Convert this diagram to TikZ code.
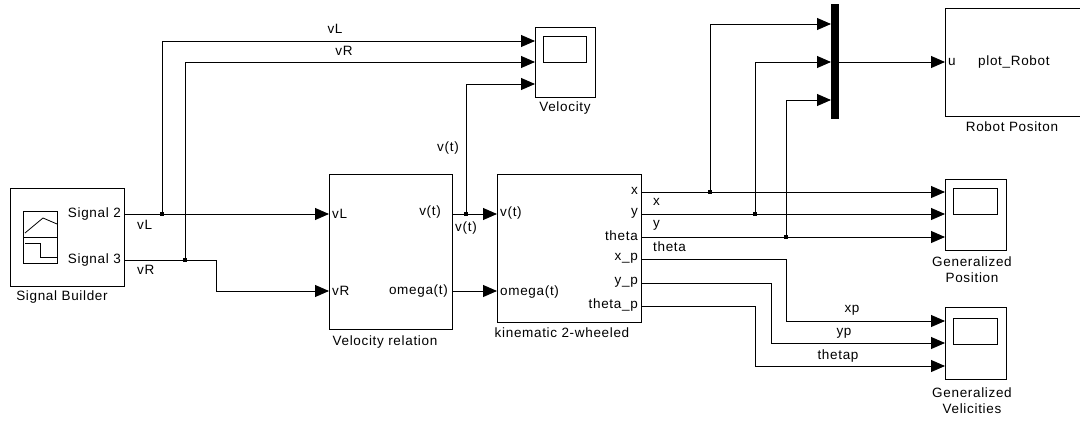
\documentclass[tikz,border=0pt]{standalone}
\usepackage{fontspec}
\setmainfont{Liberation Sans}[LetterSpace=5]
\usetikzlibrary{arrows.meta}
\begin{document}
\begin{tikzpicture}[x=1pt,y=-1pt,
  every node/.style={font=\fontsize{13.5}{16}\selectfont},
  block/.style={draw, line width=0.9pt, inner sep=0pt, anchor=north west},
  wire/.style={line width=0.9pt},
  sig/.style={wire, -{Triangle[length=14pt,width=12pt]}},
  dot/.style={fill, rectangle, inner sep=0pt, minimum size=4.5pt},
  port/.style={inner sep=0pt},
  lbl/.style={inner sep=0pt}]
\useasboundingbox (0,0) rectangle (1080,421);

% ---------- Signal Builder ----------
\node[block, minimum width=114pt, minimum height=98pt] (sb) at (10,188) {};
\draw[line width=0.8pt] (23,211) rectangle (57,263);
\draw[line width=0.8pt] (23,237) -- (57,237);
\draw[line width=0.8pt] (25,233) -- (43,218) -- (57,224);
\draw[line width=0.8pt] (25,243) -- (40,243) -- (40,257) -- (57,257);
\node[port, anchor=east] at (121,214) {Signal 2};
\node[port, anchor=east] at (121,260) {Signal 3};
\node[lbl] at (62,297) {Signal Builder};

% ---------- Velocity relation ----------
\node[block, minimum width=123pt, minimum height=155pt] (vrel) at (329,174) {};
\node[port, anchor=west] at (332,214) {vL};
\node[port, anchor=west] at (332,291) {vR};
\node[port, anchor=east] at (441,212) {v(t)};
\node[port, anchor=east] at (448,291) {omega(t)};
\node[lbl] at (385,342) {Velocity relation};

% ---------- kinematic 2-wheeled ----------
\node[block, minimum width=144pt, minimum height=148pt] (kin) at (497,174) {};
\node[port, anchor=west] at (500,213) {v(t)};
\node[port, anchor=west] at (500,292) {omega(t)};
\node[port, anchor=east] at (638,191) {x};
\node[port, anchor=east] at (638,213) {y};
\node[port, anchor=east] at (638,236) {theta};
\node[port, anchor=east] at (638,258) {x\_p};
\node[port, anchor=east] at (638,282) {y\_p};
\node[port, anchor=east] at (638,305) {theta\_p};
\node[lbl] at (562,333) {kinematic 2-wheeled};

% ---------- Velocity scope ----------
\node[block, minimum width=60pt, minimum height=70pt] (vel) at (535,27) {};
\draw[line width=0.8pt] (543,36) rectangle (586,62);
\node[lbl] at (565,108) {Velocity};

% ---------- Generalized Position scope ----------
\node[block, minimum width=61pt, minimum height=71pt] (gpos) at (945,179) {};
\draw[line width=0.8pt] (953,188) rectangle (997,214);
\node[lbl, align=center] at (972,270) {Generalized\\Position};

% ---------- Generalized Velicities scope ----------
\node[block, minimum width=61pt, minimum height=72pt] (gvel) at (945,307) {};
\draw[line width=0.8pt] (953,318) rectangle (997,344);
\node[lbl, align=center] at (972,401) {Generalized\\Velicities};

% ---------- Mux bar ----------
\node[fill, inner sep=0pt, minimum width=8pt, minimum height=115pt, anchor=north west] (mux) at (831,4) {};

% ---------- Robot Positon ----------
\node[block, minimum width=137pt, minimum height=108pt] (robot) at (945,8) {};
\node[port, anchor=west] at (948,62) {u};
\node[port, anchor=west] at (978,62) {plot\_Robot};
\node[lbl] at (1012,127) {Robot Positon};

% ---------- branch points ----------
\node[dot] (j1) at (162,214) {};
\node[dot] (j2) at (185,260) {};
\node[dot] (j3) at (466,214) {};
\node[dot] (j4) at (710,192) {};
\node[dot] (j5) at (755,214) {};
\node[dot] (j6) at (786,237) {};

% ---------- signals ----------
\draw[sig] (sb.east |- 0,214) -- (vrel.west |- 0,214);
\draw[sig] (j1.center) |- (vel.west |- 0,41);
\draw[sig] (sb.east |- 0,260) -- (216,260) -- (216,291) -- (vrel.west |- 0,291);
\draw[sig] (j2.center) |- (vel.west |- 0,62);

\draw[sig] (vrel.east |- 0,214) -- (kin.west |- 0,214);
\draw[sig] (j3.center) |- (vel.west |- 0,84);
\draw[sig] (vrel.east |- 0,291) -- (kin.west |- 0,291);

\draw[sig] (kin.east |- 0,192) -- (gpos.west |- 0,192);
\draw[sig] (kin.east |- 0,214) -- (gpos.west |- 0,214);
\draw[sig] (kin.east |- 0,237) -- (gpos.west |- 0,237);
\draw[sig] (j4.center) |- (mux.west |- 0,24);
\draw[sig] (j5.center) |- (mux.west |- 0,62);
\draw[sig] (j6.center) |- (mux.west |- 0,100);
\draw[sig] (mux.east |- 0,62) -- (robot.west |- 0,62);

\draw[sig] (kin.east |- 0,259) -- (786,259) -- (786,321) -- (gvel.west |- 0,321);
\draw[sig] (kin.east |- 0,283) -- (771,283) -- (771,343) -- (gvel.west |- 0,343);
\draw[sig] (kin.east |- 0,306) -- (755,306) -- (755,366) -- (gvel.west |- 0,366);

% ---------- signal labels ----------
\node[lbl] at (335,29) {vL};
\node[lbl] at (344,51) {vR};
\node[lbl, anchor=west] at (137,225) {vL};
\node[lbl, anchor=west] at (137,270) {vR};
\node[lbl] at (448,148) {v(t)};
\node[lbl] at (466,228) {v(t)};
\node[lbl, anchor=west] at (653,202) {x};
\node[lbl, anchor=west] at (653,225) {y};
\node[lbl, anchor=west] at (653,247) {theta};
\node[lbl] at (852,310) {xp};
\node[lbl] at (844,333) {yp};
\node[lbl] at (838,356) {thetap};
\end{tikzpicture}
\end{document}
